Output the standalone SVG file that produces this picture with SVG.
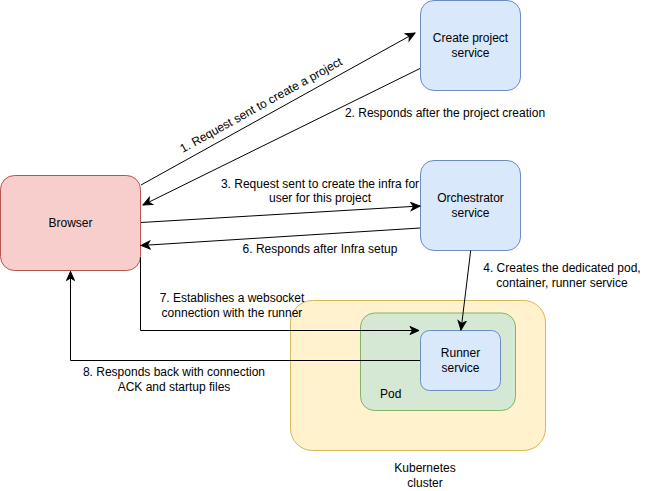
<svg xmlns="http://www.w3.org/2000/svg" width="646" height="491" viewBox="0 0 646 491">
<defs>
<style>
text{font-family:"Liberation Sans",Arial,Helvetica,sans-serif;font-size:12px;fill:#000}
.c{text-anchor:middle}
.blue{fill:#dae8fc;stroke:#6c8ebf;stroke-width:1}
.red{fill:#f8cecc;stroke:#b85450;stroke-width:1}
.green{fill:#d5e8d4;stroke:#82b366;stroke-width:1}
.yellow{fill:#fff2cc;stroke:#d6b656;stroke-width:1}
.edge{fill:none;stroke:#000;stroke-width:1;marker-end:url(#arr)}
.line{fill:none;stroke:#000;stroke-width:1}
</style>
<marker id="arr" markerUnits="userSpaceOnUse" markerWidth="12" markerHeight="10" viewBox="0 0 12 10" refX="10" refY="5" orient="auto">
<path d="M1,1 L10,5 L1,9 L3.5,5 z" fill="#000" stroke="#000" stroke-width="1"/>
</marker>
</defs>
<rect width="646" height="491" fill="#fff"/>

<g id="kubernetes-cluster">
<rect class="yellow" x="290.5" y="300.5" width="255" height="150" rx="22" ry="22"/>
<text class="c" x="425" y="472">Kubernetes</text>
<text class="c" x="425" y="487">cluster</text>
</g>
<g id="pod">
<rect class="green" x="360.5" y="313" width="155" height="97.5" rx="14" ry="14"/>
<text x="380" y="398">Pod</text>
</g>
<g id="runner-service">
<rect class="blue" x="420.5" y="330.5" width="80" height="60" rx="9" ry="9"/>
<text class="c" x="460.5" y="357">Runner</text>
<text class="c" x="460.5" y="372">service</text>
</g>
<g id="browser">
<rect class="red" x="0.5" y="175.5" width="140" height="95" rx="14" ry="14"/>
<text class="c" x="70.5" y="227">Browser</text>
</g>
<g id="create-project-service">
<rect class="blue" x="420.5" y="0.5" width="100" height="90" rx="13.5" ry="13.5"/>
<text class="c" x="470.5" y="42">Create project</text>
<text class="c" x="470.5" y="57">service</text>
</g>
<g id="orchestrator-service">
<rect class="blue" x="420.5" y="160.5" width="100" height="90" rx="13.5" ry="13.5"/>
<text class="c" x="470.5" y="202">Orchestrator</text>
<text class="c" x="470.5" y="217">service</text>
</g>

<g id="connectors">
<path class="edge" d="M141,185 L415,33"/>
<path class="edge" d="M420,68.5 L143,205"/>
<path class="edge" d="M141,222.5 L420,206"/>
<path class="edge" d="M420,228 L141,245.5"/>
<path class="edge" d="M470.7,250.5 L461,330"/>
<path class="edge" d="M140.5,257 L140.5,330.5 L419,330.5"/>
<path class="edge" d="M420,360.5 L70.5,360.5 L70.5,271.5"/>
</g>

<g id="labels">
<text class="c" transform="translate(261,105) rotate(-29)" x="0" y="4">1. Request sent to create a project</text>
<text class="c" x="445" y="117">2. Responds after the project creation</text>
<text class="c" x="320" y="188">3. Request sent to create the infra for</text>
<text class="c" x="320" y="202">user for this project</text>
<text class="c" x="320" y="253">6. Responds after Infra setup</text>
<text class="c" x="562" y="272">4. Creates the dedicated pod,</text>
<text class="c" x="562" y="287">container, runner service</text>
<text class="c" x="232" y="302">7. Establishes a websocket</text>
<text class="c" x="232" y="317">connection with the runner</text>
<text class="c" x="174" y="376">8. Responds back with connection</text>
<text class="c" x="174" y="391">ACK and startup files</text>
</g>
</svg>
